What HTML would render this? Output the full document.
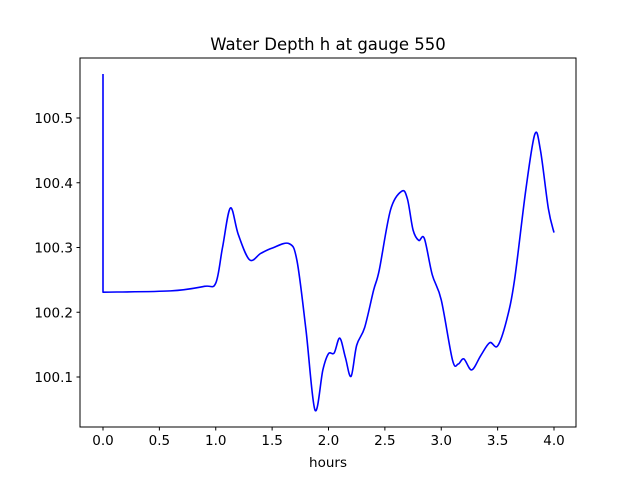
<!DOCTYPE html>
<html><head><meta charset="utf-8"><style>
body{margin:0;background:#fff}
svg text{font-family:"DejaVu Sans","Liberation Sans",sans-serif;fill:#000}
</style></head><body>
<svg width="640" height="480" viewBox="0 0 640 480">
<rect width="640" height="480" fill="#fff"/>
<text x="328" y="50" font-size="16.5" text-anchor="middle">Water Depth h at gauge 550</text>
<g id="plot"></g>
<rect x="80" y="58" width="496" height="369" fill="none" stroke="#000" stroke-width="1"/>
<text x="328" y="467" font-size="13.5" text-anchor="middle">hours</text>
</svg>
<script>
const xs=[0,0,0.6,0.9,1.0,1.06,1.13,1.2,1.3,1.4,1.5,1.65,1.72,1.8,1.88,1.95,2.0,2.05,2.1,2.15,2.2,2.25,2.32,2.4,2.45,2.55,2.65,2.7,2.75,2.8,2.85,2.92,3.0,3.1,3.15,3.2,3.27,3.35,3.43,3.5,3.58,3.65,3.75,3.83,3.88,3.95,4.0];
const ys=[100.568,100.231,100.233,100.240,100.245,100.300,100.361,100.320,100.281,100.291,100.299,100.306,100.280,100.173,100.049,100.111,100.136,100.137,100.160,100.130,100.101,100.149,100.176,100.234,100.265,100.358,100.387,100.375,100.327,100.311,100.314,100.258,100.219,100.126,100.120,100.128,100.111,100.133,100.153,100.148,100.188,100.250,100.389,100.475,100.450,100.360,100.323];
const xTicks=[0,0.5,1,1.5,2,2.5,3,3.5,4];
const xTickLabels=["0.0","0.5","1.0","1.5","2.0","2.5","3.0","3.5","4.0"];
const yTicks=[100.1,100.2,100.3,100.4,100.5];
const yTickLabels=["100.1","100.2","100.3","100.4","100.5"];
const X=v=>103+v*112.75;
const Y=v=>377-(v-100.1)*647.5;
const g=document.getElementById('plot');
const NS='http://www.w3.org/2000/svg';
function mk(t,a){const e=document.createElementNS(NS,t);for(const k in a)e.setAttribute(k,a[k]);g.appendChild(e);return e;}
xTicks.forEach((t,i)=>{
 const l=mk('line',{x1:X(t),x2:X(t),y1:427,y2:430.5,stroke:'#000'});
 
 
 const tx=mk('text',{x:X(t),y:445,'font-size':13.5,'text-anchor':'middle'});tx.textContent=xTickLabels[i];
 
 
});
yTicks.forEach((t,i)=>{
 const l=mk('line',{x1:76.5,x2:80,y1:Y(t),y2:Y(t),stroke:'#000'});
 
 
 const tx=mk('text',{x:73,y:Y(t)+5,'font-size':13.5,'text-anchor':'end'});tx.textContent=yTickLabels[i];
 
 
});
const P=xs.map((x,i)=>[X(x),Y(ys[i])]);
let d='M'+P[0][0]+','+P[0][1]+' L'+P[1][0]+','+P[1][1];
for(let i=1;i<P.length-1;i++){
 const p0=P[Math.max(i-1,1)],p1=P[i],p2=P[i+1],p3=P[Math.min(i+2,P.length-1)];
 const c1=[p1[0]+(p2[0]-p0[0])/6,p1[1]+(p2[1]-p0[1])/6];
 const c2=[p2[0]-(p3[0]-p1[0])/6,p2[1]-(p3[1]-p1[1])/6];
 d+=' C'+c1[0]+','+c1[1]+' '+c2[0]+','+c2[1]+' '+p2[0]+','+p2[1];
}
const line=mk('path',{d:d,fill:'none',stroke:'#0000ff','stroke-width':1.6,'stroke-linejoin':'round'});


</script>
</body></html>
